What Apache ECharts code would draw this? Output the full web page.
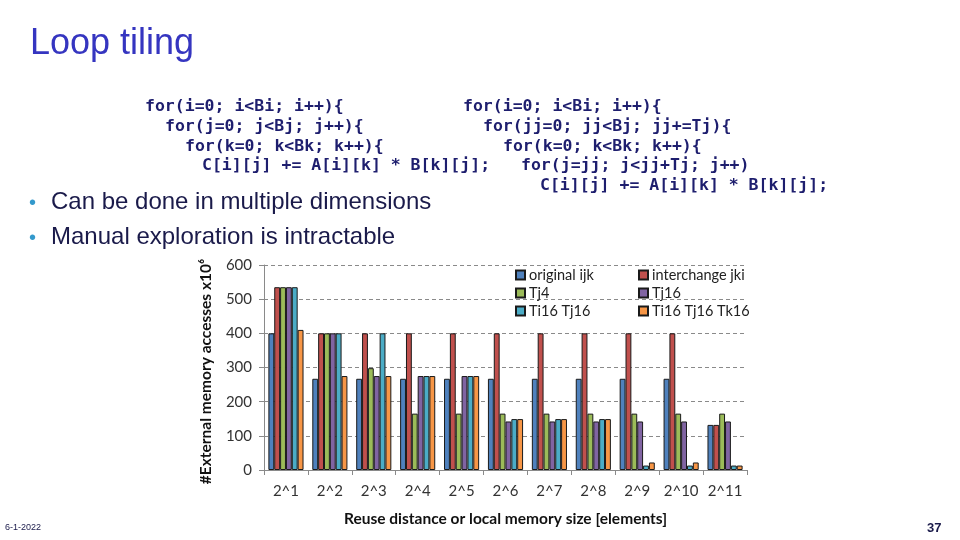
<!DOCTYPE html>
<html>
<head>
<meta charset="utf-8">
<script src="https://cdn.jsdelivr.net/npm/echarts@6/dist/echarts.min.js"></script>
<style>
html,body{margin:0;padding:0;background:#fff;}
#c{width:960px;height:540px;}
</style>
</head>
<body>
<div id="c"></div>
<script>
const categories = ['2^1','2^2','2^3','2^4','2^5','2^6','2^7','2^8','2^9','2^10','2^11'];
const seriesNames = ['original ijk','interchange jki','Tj4','Tj16','Ti16 Tj16','Ti16 Tj16 Tk16'];
const originalIjk   = [400, 267, 267, 267, 267, 267, 267, 267, 267, 267, 132];
const interchangeJki= [535, 400, 400, 400, 400, 400, 400, 400, 400, 400, 132];
const tj4           = [535, 400, 298, 165, 165, 165, 165, 165, 165, 165, 165];
const tj16          = [535, 400, 275, 275, 275, 142, 142, 142, 142, 142, 142];
const ti16tj16      = [535, 400, 400, 275, 275, 149, 149, 149, 13, 13, 13];
const ti16tj16tk16  = [410, 275, 275, 275, 275, 149, 149, 149, 22, 22, 13];
const yTicks = [0, 100, 200, 300, 400, 500, 600];

const colors = ['#4F81BD','#C0504D','#9BBB59','#8064A2','#4BACC6','#F79646'];
const values = [originalIjk, interchangeJki, tj4, tj16, ti16tj16, ti16tj16tk16];

const codeLeft = [
  'for(i=0; i<Bi; i++){',
  'for(j=0; j<Bj; j++){',
  'for(k=0; k<Bk; k++){',
  'C[i][j] += A[i][k] * B[k][j];'
];
const codeRight = [
  'for(i=0; i<Bi; i++){',
  'for(jj=0; jj<Bj; jj+=Tj){',
  'for(k=0; k<Bk; k++){',
  'for(j=jj; j<jj+Tj; j++)',
  'C[i][j] += A[i][k] * B[k][j];'
];
const bullets = ['Can be done in multiple dimensions', 'Manual exploration is intractable'];

const chart = echarts.init(document.getElementById('c'));
const codeFont = 'bold 16.5px "DejaVu Sans Mono", monospace';
const leftX = [145, 165, 185, 202];
const rightX = [463, 483, 503, 521, 540];
const graphics = [
  {type:'text', left:30, top:26, style:{text:'Loop tiling', font:'36px "Liberation Sans", Arial, sans-serif', fill:'#3535C0'}},
  {type:'text', left:29, top:193, style:{text:'•', font:'20px "Liberation Sans", Arial, sans-serif', fill:'#3399CC'}},
  {type:'text', left:29, top:228, style:{text:'•', font:'20px "Liberation Sans", Arial, sans-serif', fill:'#3399CC'}},
  {type:'text', left:51, top:190, style:{text:bullets[0], font:'24px "Liberation Sans", Arial, sans-serif', fill:'#1A1A4A'}},
  {type:'text', left:51, top:225, style:{text:bullets[1], font:'24px "Liberation Sans", Arial, sans-serif', fill:'#1A1A4A'}},
  {type:'text', left:5, top:523, style:{text:'6-1-2022', font:'9px "Liberation Sans Narrow", "Liberation Sans", sans-serif', fill:'#1A1A4A'}},
  {type:'text', left:927, top:522, style:{text:'37', font:'bold 13px "Liberation Sans Narrow", "Liberation Sans", sans-serif', fill:'#1A1A4A'}}
];
codeLeft.forEach((t,i)=>graphics.push({type:'text', x:leftX[i], y:107 + i*19.7, style:{text:t, font:codeFont, fill:'#1E1E6E', verticalAlign:'middle'}}));
codeRight.forEach((t,i)=>graphics.push({type:'text', x:rightX[i], y:107 + i*19.7, style:{text:t, font:codeFont, fill:'#1E1E6E', verticalAlign:'middle'}}));

const legendCommon = {
  orient:'vertical', itemWidth:9, itemHeight:9, itemGap:0, icon:'rect',
  textStyle:{fontFamily:'Lato', fontSize:14.5, color:'#222', lineHeight:18, padding:[0,0,0,-1]}
};

chart.setOption({
  animation:false,
  color: colors,
  graphic: graphics,
  legend: [
    Object.assign({left:510, top:261, data:[seriesNames[0], seriesNames[2], seriesNames[4]]}, legendCommon),
    Object.assign({left:633, top:261, data:[seriesNames[1], seriesNames[3], seriesNames[5]]}, legendCommon)
  ],
  grid:{left:264, right:213, top:265, bottom:70},
  xAxis:{
    type:'category', data:categories,
    axisLine:{lineStyle:{color:'#8a8a8a'}},
    axisTick:{show:true, length:5, lineStyle:{color:'#8a8a8a'}},
    axisLabel:{color:'#333', fontFamily:'Lato', fontSize:15, margin:14, interval:0},
    name:'Reuse distance or local memory size [elements]',
    nameLocation:'middle', nameGap:41,
    nameTextStyle:{fontFamily:'Lato', fontWeight:'bold', fontSize:15.5, color:'#111'}
  },
  yAxis:{
    type:'value', min:0, max:600, interval:100,
    axisLine:{show:true, lineStyle:{color:'#8a8a8a'}},
    axisTick:{show:true, length:5, lineStyle:{color:'#8a8a8a'}},
    axisLabel:{color:'#333', fontFamily:'Lato', fontSize:15, margin:12},
    splitLine:{lineStyle:{color:'#8a8a8a', type:[4,3]}},
    name:'#External memory accesses x10⁶',
    nameLocation:'middle', nameGap:50, nameRotate:90,
    nameTextStyle:{fontFamily:'Lato', fontWeight:'bold', fontSize:15.5, color:'#111', padding:[0,8,0,0]}
  },
  series: seriesNames.map((n,i)=>({
    name:n, type:'bar', data:values[i],
    barGap:'0%', barCategoryGap:'20%',
    itemStyle:{color:colors[i], borderColor:'#1a1a1a', borderWidth:1}
  }))
});
</script>
</body>
</html>
